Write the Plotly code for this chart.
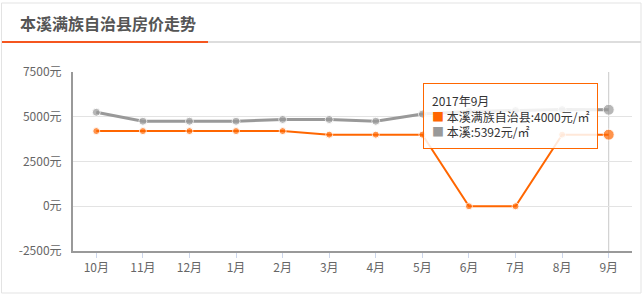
import plotly.graph_objects as go

# ---- data ----
months = ["10月", "11月", "12月", "1月", "2月", "3月", "4月", "5月", "6月", "7月", "8月", "9月"]
county_price = [4200, 4200, 4200, 4200, 4200, 4000, 4000, 4000, 0, 0, 4000, 4000]   # 本溪满族自治县
city_price = [5250, 4750, 4750, 4750, 4850, 4850, 4750, 5150, 5300, 5350, 5400, 5392]  # 本溪
y_ticks = [-2500, 0, 2500, 5000, 7500]
y_tick_text = [f"{v}元" for v in y_ticks]
title_text = "本溪满族自治县房价走势"
hover_label = "2017年9月"
county_name = "本溪满族自治县"
city_name = "本溪"

ORANGE = "#ff6600"
GRAY = "#999999"
FONT = "Noto Sans CJK SC"

W, H = 642, 294
PL, PR, PT, PB = 73, 632, 72, 251  # plot area in pixels


def fx(p):
    return (p - PL) / (PR - PL)


def fy(p):
    return (PB - p) / (PB - PT)


last = len(months) - 1
sizes_c = [7] * last + [11]
sizes_g = [8] * last + [11]

fig = go.Figure()
fig.add_trace(go.Scatter(
    x=months, y=city_price, mode="lines+markers", name=city_name,
    line=dict(color=GRAY, width=3),
    marker=dict(color=GRAY, size=sizes_g),
))
fig.add_trace(go.Scatter(
    x=months, y=county_price, mode="lines+markers", name=county_name,
    line=dict(color=ORANGE, width=2),
    marker=dict(color=ORANGE, size=sizes_c),
))

shapes = [
    # card border
    dict(type="rect", xref="paper", yref="paper",
         x0=fx(1.5), x1=fx(641), y0=fy(3), y1=fy(293),
         line=dict(color="#e3e3e3", width=1), fillcolor="rgba(0,0,0,0)"),
    # header divider
    dict(type="line", xref="paper", yref="paper",
         x0=fx(2), x1=fx(641), y0=fy(42), y1=fy(42),
         line=dict(color="#dddddd", width=2)),
    dict(type="line", xref="paper", yref="paper",
         x0=fx(2), x1=fx(208), y0=fy(42), y1=fy(42),
         line=dict(color="#f5561f", width=2)),
    # hover crosshair at the last month
    dict(type="line", xref="x", yref="paper",
         x0=months[-1], x1=months[-1], y0=0, y1=1,
         line=dict(color="#c8c8c8", width=1), layer="below"),
]

tip = (
    f"{hover_label}<br>"
    f"<span style='color:{ORANGE}'>■</span> {county_name}:{county_price[-1]}元/㎡<br>"
    f"<span style='color:{GRAY}'>■</span> {city_name}:{city_price[-1]}元/㎡"
)

annotations = [
    dict(xref="paper", yref="paper", x=fx(18), y=fy(23), xanchor="left", yanchor="middle",
         text=f"<b>{title_text}</b>", showarrow=False,
         font=dict(family=FONT, size=16, color="#555555")),
    dict(xref="x", yref="paper", x=months[-1], xshift=-11, y=fy(83),
         xanchor="right", yanchor="top", align="left", showarrow=False,
         text=tip, bgcolor="rgba(255,255,255,0.85)", bordercolor=ORANGE,
         borderwidth=1, borderpad=8,
         font=dict(family=FONT, size=12, color="#333333")),
]

fig.update_layout(
    width=W, height=H, autosize=False,
    margin=dict(l=PL, r=W - PR, t=PT, b=H - PB),
    paper_bgcolor="white", plot_bgcolor="white",
    showlegend=False,
    font=dict(family=FONT, size=12, color="#666666"),
    shapes=shapes, annotations=annotations,
)
fig.update_xaxes(
    type="category", range=[-0.5, len(months) - 0.5],
    showgrid=False, zeroline=False,
    showline=True, linecolor="#999999", linewidth=2,
    ticks="outside", ticklen=5, tickcolor="#ccd6eb", tickwidth=1,
    tickfont=dict(family=FONT, size=12, color="#666666"),
)
fig.update_yaxes(
    range=[y_ticks[0], y_ticks[-1]], tickmode="array",
    tickvals=y_ticks, ticktext=y_tick_text,
    showgrid=True, gridcolor="#e3e3e3", gridwidth=1,
    zeroline=True, zerolinecolor="#e3e3e3", zerolinewidth=1,
    showline=True, linecolor="#999999", linewidth=2,
    ticks="", ticklabelstandoff=7,
    tickfont=dict(family=FONT, size=12, color="#666666"),
)

fig.write_html("out.html")
